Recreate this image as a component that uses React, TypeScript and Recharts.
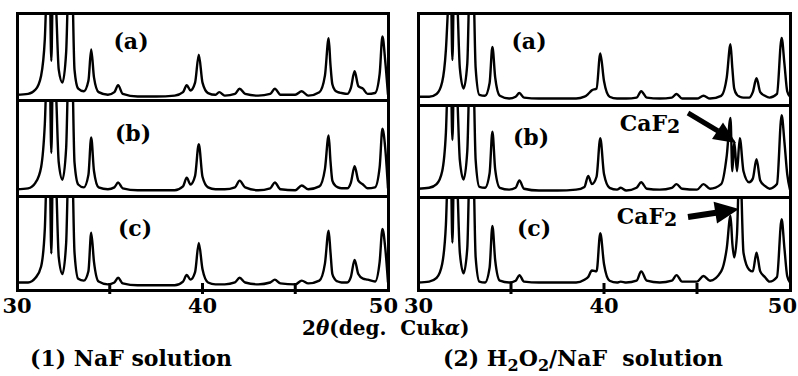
import { LineChart, Line, XAxis, YAxis } from "recharts";

// 2θ grid (deg), shared by all six patterns
const twoTheta = [
  30.0, 30.6, 31.0, 31.3, 31.5, 31.65, 31.75, 31.85, 31.95, 32.1,
  32.25, 32.45, 32.65, 32.8, 32.95, 33.1, 33.3, 33.6, 33.85, 34.0,
  34.15, 34.4, 34.9, 35.25, 35.45, 35.7, 36.5, 37.5, 38.5, 38.95,
  39.15, 39.35, 39.6, 39.8, 40.0, 40.3, 40.7, 40.9, 41.2, 41.75,
  42.0, 42.3, 43.0, 43.65, 43.9, 44.2, 45.0, 45.35, 45.7, 46.3,
  46.6, 46.8, 46.9, 47.0, 47.15, 47.3, 47.5, 47.8, 48.0, 48.2,
  48.4, 48.65, 48.9, 49.3, 49.55, 49.7, 49.85, 50.0,
];

// relative intensity, 0 = bottom of strip, 100 = top (strong peaks run off the top)
const naF_a = [
  6, 7, 12, 28, 70, 150, 150, 45, 150, 110,
  35, 20, 55, 150, 150, 35, 13, 10, 22, 58,
  26, 9, 6, 9, 17, 7, 4, 4, 5, 9,
  17, 11, 20, 52, 20, 8, 6, 9, 5, 7,
  13, 7, 5, 7, 13, 6, 6, 10, 5, 9,
  28, 71, 40, 18, 11, 9, 8, 7, 14, 33,
  16, 13, 7, 8, 30, 73, 45, 6,
];
const naF_b = [
  7, 8, 14, 30, 75, 150, 150, 45, 150, 110,
  35, 17, 50, 150, 150, 35, 12, 9, 22, 61,
  26, 9, 7, 9, 14, 8, 6, 6, 6, 10,
  19, 12, 21, 54, 20, 9, 7, 7, 7, 9,
  16, 9, 6, 8, 14, 7, 6, 11, 7, 10,
  28, 63, 36, 16, 11, 9, 8, 8, 14, 31,
  16, 12, 8, 9, 30, 70, 50, 8,
];
const naF_c = [
  8, 8, 13, 25, 65, 150, 150, 39, 150, 120,
  35, 17, 50, 150, 150, 40, 12, 10, 20, 61,
  30, 9, 6, 8, 13, 7, 5, 5, 5, 9,
  16, 11, 19, 50, 22, 8, 6, 6, 6, 8,
  13, 8, 6, 8, 11, 7, 6, 10, 7, 10,
  28, 63, 40, 17, 11, 9, 8, 8, 14, 32,
  17, 12, 11, 9, 30, 65, 45, 8,
];
const h2o2_a = [
  9, 9, 12, 25, 60, 120, 150, 49, 150, 120,
  40, 18, 45, 150, 150, 40, 11, 10, 24, 63,
  30, 10, 7, 9, 13, 8, 7, 7, 7, 9,
  12, 16, 18, 56, 26, 9, 7, 7, 7, 8,
  15, 8, 7, 8, 12, 7, 7, 10, 7, 10,
  30, 66, 40, 18, 11, 9, 8, 8, 14, 29,
  14, 10, 8, 12, 73, 45, 15, 9,
];
const h2o2_b = [
  9, 10, 14, 28, 70, 150, 150, 62, 150, 115,
  40, 19, 50, 150, 150, 40, 11, 10, 26, 71,
  30, 10, 8, 10, 18, 9, 7, 7, 8, 11,
  23, 14, 22, 64, 25, 10, 8, 10, 7, 10,
  16, 9, 8, 10, 14, 9, 8, 14, 9, 14,
  45, 86, 28, 60, 28, 64, 28, 16, 20, 41,
  18, 12, 9, 14, 89, 60, 25, 8,
];
const h2o2_c = [
  8, 9, 13, 28, 70, 150, 150, 51, 150, 120,
  40, 18, 45, 150, 150, 35, 9, 8, 24, 69,
  32, 10, 8, 10, 16, 9, 8, 8, 8, 11,
  14, 21, 20, 61, 28, 10, 8, 9, 8, 10,
  20, 10, 8, 10, 16, 9, 9, 15, 10, 20,
  45, 80, 50, 35, 60, 150, 40, 22, 20, 40,
  20, 14, 9, 14, 76, 45, 15, 8,
];

const rowLabels = ["(a)", "(b)", "(c)"];
const tickValues = [30, 35, 40, 45, 50];
const tickLabels = [30, 40, 50];
const tickMarks = [35, 40, 45];

const data = twoTheta.map((t, i) => ({
  t,
  la: naF_a[i],
  lb: naF_b[i],
  lc: naF_c[i],
  ra: h2o2_a[i],
  rb: h2o2_b[i],
  rc: h2o2_c[i],
}));

const FONT = "'DejaVu Serif', 'Liberation Serif', serif";

const panels = [
  {
    side: "left",
    x0: 17,
    x1: 388,
    rows: [13, 100, 196, 290],
    keys: ["la", "lb", "lc"],
    labels: [
      [131, 41],
      [133, 133],
      [135, 228],
    ],
  },
  {
    side: "right",
    x0: 418,
    x1: 790,
    rows: [13, 105, 197, 290],
    keys: ["ra", "rb", "rc"],
    labels: [
      [529, 41],
      [531, 137],
      [534, 228],
    ],
  },
];

const AxisTick = (props: any) => {
  const { x, y, payload, side } = props;
  const v = payload.value;
  // the "50" of the left panel and the "30" of the right one sit side by side
  let anchor = "middle";
  let dx = 0;
  if (side === "left" && v === 50) {
    anchor = "end";
    dx = 10;
  } else if (side === "right" && v === 30) {
    anchor = "start";
    dx = -14;
  } else if (side === "right" && v === 50) {
    anchor = "end";
    dx = 7;
  }
  return (
    <g>
      {tickMarks.includes(v) && (
        <line x1={x} x2={x} y1={y - 7} y2={y + 4} stroke="#000" strokeWidth={3} />
      )}
      {tickLabels.includes(v) && (
        <text
          x={x + dx}
          y={y + 23}
          textAnchor={anchor}
          fontFamily={FONT}
          fontWeight="bold"
          fontSize={21}
          fill="#000"
        >
          {v}
        </text>
      )}
    </g>
  );
};

const PAD = 22;

function Strip({ left, top, width, height, dataKey, bottom, side }: any) {
  const axisH = bottom ? 30 : 0;
  return (
    <div style={{ position: "absolute", left: left - PAD, top }}>
      <LineChart
        width={width + PAD * 2}
        height={height + axisH}
        data={data}
        margin={{ top: 0, right: PAD, bottom: 0, left: PAD }}
      >
        <XAxis
          dataKey="t"
          type="number"
          domain={[30, 50]}
          ticks={tickValues}
          interval={0}
          hide={!bottom}
          height={axisH}
          axisLine={false}
          tickLine={false}
          tickSize={0}
          tickMargin={0}
          tick={<AxisTick side={side} />}
        />
        <YAxis type="number" domain={[0, 100]} allowDataOverflow hide />
        <Line
          type="monotone"
          dataKey={dataKey}
          stroke="#000"
          strokeWidth={2.4}
          dot={false}
          isAnimationActive={false}
        />
      </LineChart>
    </div>
  );
}

function Frame({ x0, x1, y0, y1 }: any) {
  return (
    <div
      style={{
        position: "absolute",
        left: x0 - 1.5,
        top: y0 - 1.5,
        width: x1 - x0 + 3,
        height: y1 - y0 + 3,
        border: "3px solid #000",
        boxSizing: "border-box",
        pointerEvents: "none",
      }}
    />
  );
}

const boldText = (size: number): any => ({
  position: "absolute",
  fontFamily: FONT,
  fontWeight: "bold",
  fontSize: size,
  color: "#000",
  whiteSpace: "nowrap",
  lineHeight: 1,
});

export default function App() {
  return (
    <div
      style={{
        position: "absolute",
        left: 0,
        top: 0,
        width: 798,
        height: 376,
        background: "#fff",
        overflow: "hidden",
      }}
    >
      {panels.map((p, pi) =>
        p.keys.map((k, ri) => (
          <Strip
            key={`${pi}-${k}`}
            left={p.x0}
            top={p.rows[ri]}
            width={p.x1 - p.x0}
            height={p.rows[ri + 1] - p.rows[ri]}
            dataKey={k}
            bottom={ri === 2}
            side={p.side}
          />
        ))
      )}
      {panels.map((p, pi) =>
        p.keys.map((k, ri) => (
          <Frame key={`f${pi}-${k}`} x0={p.x0} x1={p.x1} y0={p.rows[ri]} y1={p.rows[ri + 1]} />
        ))
      )}
      {panels.map((p, pi) =>
        rowLabels.map((lab, ri) => (
          <div
            key={`l${pi}-${ri}`}
            style={{
              ...boldText(22),
              left: p.labels[ri][0],
              top: p.labels[ri][1],
              transform: "translate(-50%, -50%)",
            }}
          >
            {lab}
          </div>
        ))
      )}

      {/* CaF2 annotations */}
      <div style={{ ...boldText(22), left: 650, top: 123, transform: "translate(-50%, -50%)" }}>
        CaF<span style={{ fontSize: 19, position: "relative", top: 2 }}>2</span>
      </div>
      <div style={{ ...boldText(22), left: 647, top: 216, transform: "translate(-50%, -50%)" }}>
        CaF<span style={{ fontSize: 19, position: "relative", top: 2 }}>2</span>
      </div>
      <svg
        width={798}
        height={376}
        style={{ position: "absolute", left: 0, top: 0, pointerEvents: "none" }}
      >
        <line x1={688} y1={113} x2={718} y2={131} stroke="#000" strokeWidth={5} />
        <polygon points="736,143 712,139 723,122.5" fill="#000" />
        <line x1={688} y1={217} x2={716} y2={212.7} stroke="#000" strokeWidth={6} />
        <polygon points="739,209 717,223.6 713.6,201.8" fill="#000" />
      </svg>

      {/* axis title */}
      <div style={{ ...boldText(20), left: 302, top: 318 }}>
        2<i>θ</i>(deg.&nbsp; Cuk<i>α</i>)
      </div>

      {/* panel titles */}
      <div style={{ ...boldText(22), left: 30, top: 347 }}>(1) NaF solution</div>
      <div style={{ ...boldText(22), left: 443, top: 347 }}>
        (2) H<sub style={{ fontSize: 16 }}>2</sub>O<sub style={{ fontSize: 16 }}>2</sub>/NaF&nbsp; solution
      </div>
    </div>
  );
}
